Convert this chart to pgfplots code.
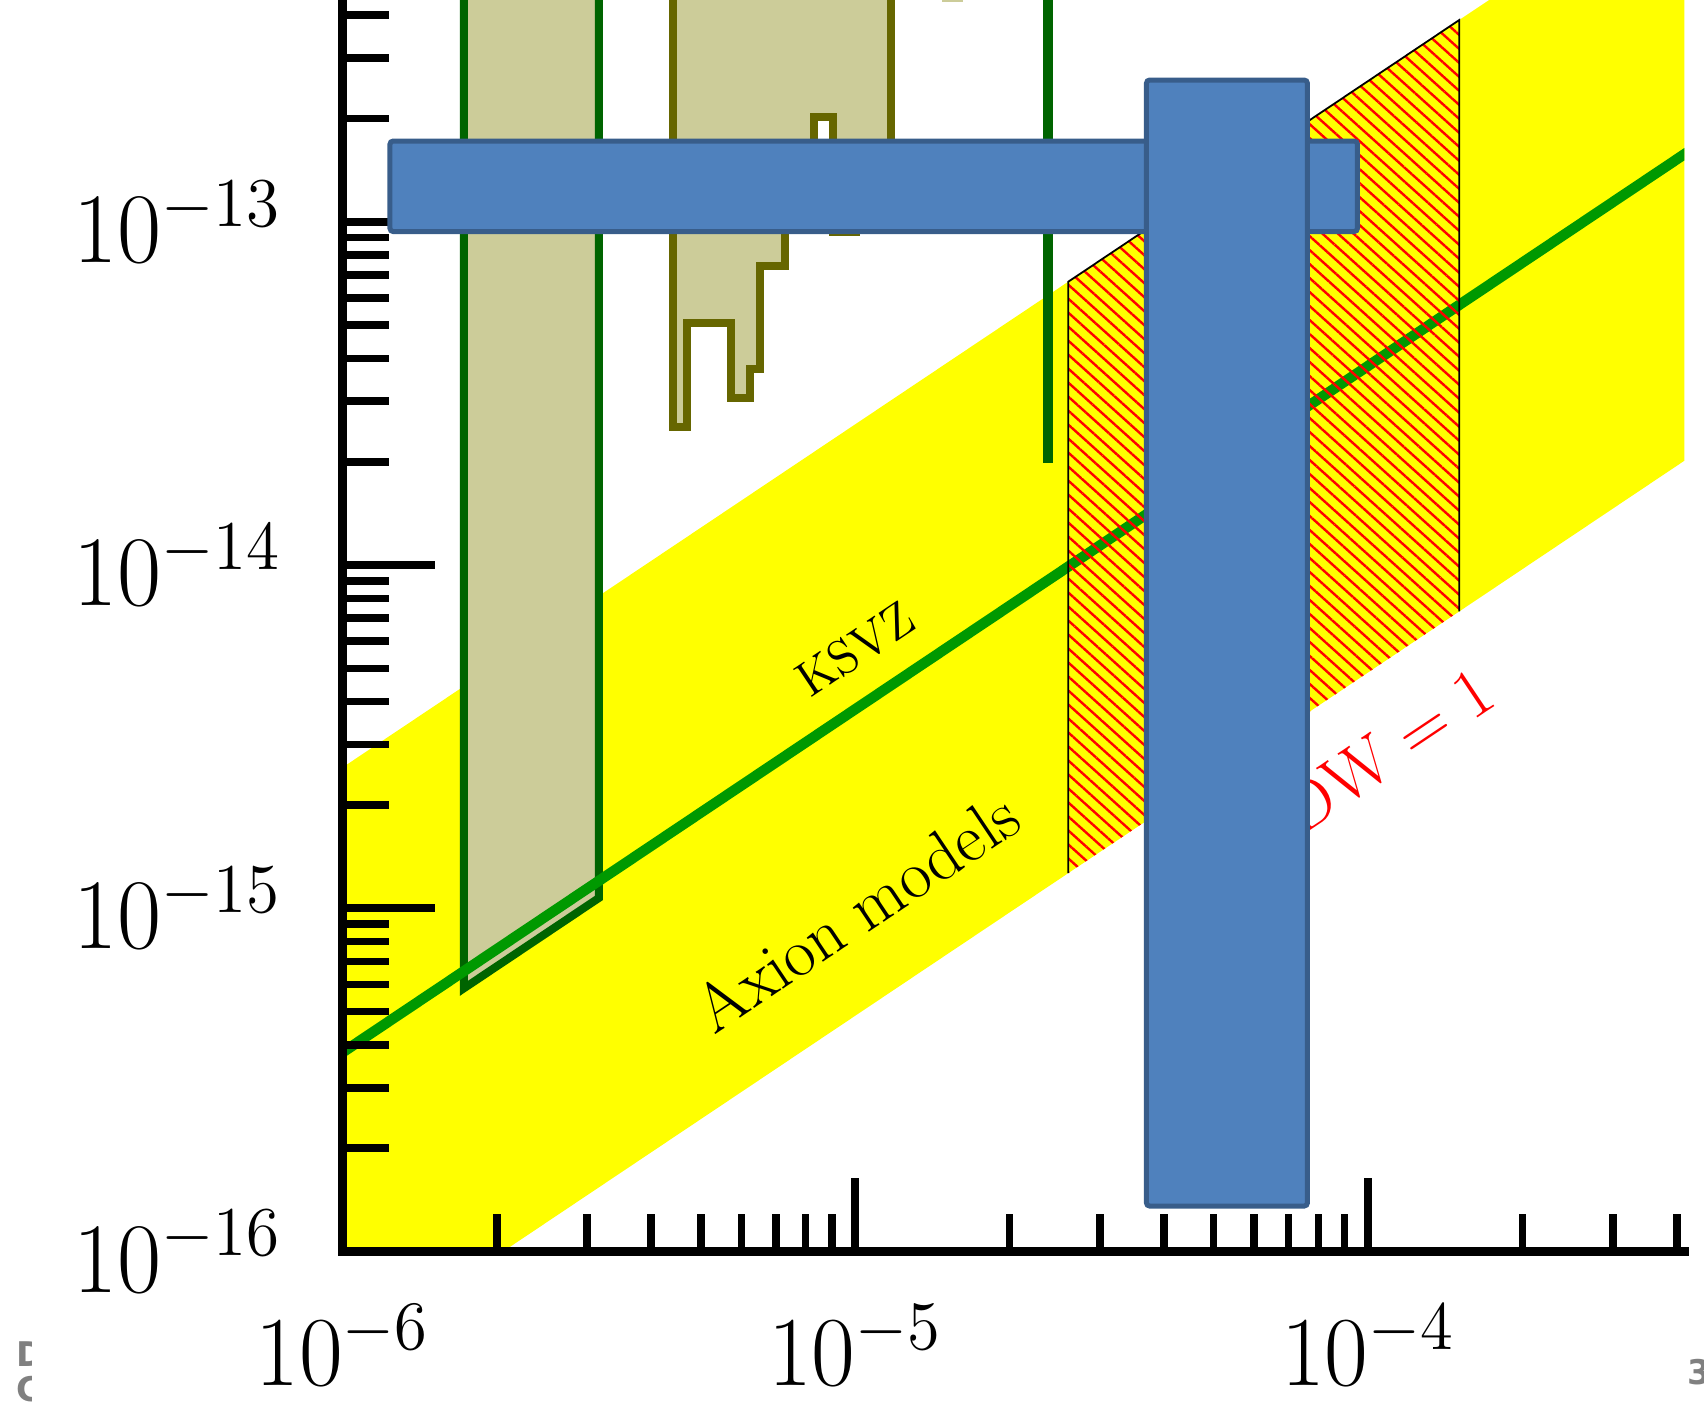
\RequirePackage{fix-cm}
\documentclass[border=0pt]{standalone}
\usepackage{fontspec}
\usepackage{graphicx}
\usepackage{pgfplots}
\pgfplotsset{compat=1.18}
\usetikzlibrary{patterns.meta}
\newfontfamily\footfont{DejaVu Sans}
\definecolor{bandyellow}{RGB}{255,255,0}
\definecolor{hatchred}{RGB}{255,0,0}
\definecolor{tanfill}{RGB}{204,204,153}
\definecolor{olivebd}{RGB}{102,102,0}
\definecolor{dkgreen}{RGB}{0,100,0}
\definecolor{ksvz}{RGB}{0,153,0}
\definecolor{barfill}{RGB}{79,129,189}
\definecolor{bardraw}{RGB}{56,93,138}
\definecolor{footgray}{RGB}{128,128,128}
\begin{document}
\begin{tikzpicture}
\useasboundingbox (0,0) rectangle (426pt,352pt);
% ---------------- data layer
\begin{axis}[xmode=log, ymode=log, xmin=1e-6, xmax=4.14e-4, ymin=1e-16, ymax=4.4262e-13,
  scale only axis, width=335.5pt, height=312.875pt, at={(85.625pt,39.125pt)}, anchor=south west,
  hide axis]
% axion band
\addplot[fill=bandyellow, draw=none] coordinates {(1e-6,2.5704e-15) (4.2e-4,1.0796e-12) (4.2e-4,2.0429e-14) (1e-6,4.864e-17)} -- cycle;
% left exclusion column
\addplot[fill=tanfill, draw=dkgreen, line width=2pt] coordinates {(1.7255e-6,1e-12) (1.7255e-6,5.8467e-16) (3.1637e-6,1.0720e-15) (3.1637e-6,1e-12)} -- cycle;
% middle exclusion region
\addplot[fill=tanfill, draw=olivebd, line width=2pt] coordinates {(4.4165e-6,1e-12) (4.4165e-6,2.5237e-14) (4.6968e-6,2.5237e-14) (4.6968e-6,5.060e-14) (5.7227e-6,5.060e-14) (5.7227e-6,3.0658e-14) (6.2413e-6,3.0658e-14) (6.2413e-6,3.729e-14) (6.519e-6,3.729e-14) (6.519e-6,7.432e-14) (7.2834e-6,7.432e-14) (7.2834e-6,1.1571e-13) (8.3258e-6,1.1571e-13) (8.3258e-6,2.0192e-13) (9.0593e-6,2.0192e-13) (9.0593e-6,9.317e-14) (1.0031e-5,9.317e-14) (1.0031e-5,1.1571e-13) (1.1749e-5,1.1571e-13) (1.1749e-5,1e-12)} -- cycle;
% small piece at top
\addplot[fill=tanfill, draw=none] coordinates {(1.4759e-5,4.3819e-13) (1.6218e-5,4.3819e-13) (1.6218e-5,1e-12) (1.4759e-5,1e-12)} -- cycle;
% KSVZ line
\addplot[ksvz, line width=2.6pt] coordinates {(1e-6,3.8019e-16) (4.2e-4,1.5968e-13)};
% hatched region
\addplot[draw=none, pattern={Lines[angle=-42,distance=2.6pt,line width=0.6pt]}, pattern color=hatchred] coordinates {(2.6025e-5,1.2659e-15) (2.6025e-5,6.6895e-14) (1.5066e-4,3.8726e-13) (1.5066e-4,7.328e-15)} -- cycle;
\addplot[black, line width=0.45pt] coordinates {(2.6025e-5,1.2659e-15) (2.6025e-5,6.6895e-14) (1.5066e-4,3.8726e-13) (1.5066e-4,7.328e-15)};
% narrow spike
\addplot[dkgreen, line width=2.4pt] coordinates {(2.3788e-5,1e-12) (2.3788e-5,1.9783e-14)};
\node[rotate=33.8, font=\fontsize{12.3}{14}\selectfont] at (axis cs:1e-5,5.70e-15) {KSVZ};
\node[rotate=33.8, font=\fontsize{17}{20}\selectfont] at (axis cs:1.0062e-5,9.771e-16) {Axion models};
\node[rotate=33.8, anchor=base east, text=hatchred, inner sep=0pt, font=\fontsize{17.5}{20}\selectfont] at (axis cs:1.8077e-4,3.95e-15) {$N\,\mathrm{DW} = 1$};
\end{axis}
% ---------------- x axis
\begin{axis}[xmode=log, ymode=log, xmin=1e-6, xmax=4.14e-4, ymin=1e-16, ymax=4.4262e-13,
  scale only axis, width=335.5pt, height=312.875pt, at={(85.625pt,39.125pt)}, anchor=south west,
  axis x line*=bottom, hide y axis, tick align=inside,
  xtick={1e-6,1e-5,1e-4},
  minor xtick={2e-6,3e-6,4e-6,5e-6,6e-6,7e-6,8e-6,9e-6,2e-5,3e-5,4e-5,5e-5,6e-5,7e-5,8e-5,9e-5,2e-4,3e-4,4e-4},
  xticklabels={\scalebox{1}[1.04]{$10^{-6}$},\scalebox{1}[1.04]{$10^{-5}$},\scalebox{1}[1.04]{$10^{-4}$}},
  major tick length=18.4pt, minor tick length=9.4pt,
  tick style={black, line width=1.9pt},
  axis line style={black, line width=2.1pt, line cap=rect},
  xticklabel style={anchor=base, inner sep=0pt, yshift=-33.5pt, font=\fontsize{23.8}{28}\selectfont}]
\end{axis}
% ---------------- y axis
\begin{axis}[xmode=log, ymode=log, xmin=1e-6, xmax=4.14e-4, ymin=1e-16, ymax=4.4262e-13,
  scale only axis, width=335.5pt, height=312.875pt, at={(85.625pt,39.125pt)}, anchor=south west,
  axis y line*=left, hide x axis, tick align=inside,
  ytick={1e-16,1e-15,1e-14,1e-13},
  minor ytick={2e-16,3e-16,4e-16,5e-16,6e-16,7e-16,8e-16,9e-16,2e-15,3e-15,4e-15,5e-15,6e-15,7e-15,8e-15,9e-15,2e-14,3e-14,4e-14,5e-14,6e-14,7e-14,8e-14,9e-14,2e-13,3e-13,4e-13},
  yticklabels={\scalebox{1}[1.04]{$10^{-16}$},\scalebox{1}[1.04]{$10^{-15}$},\scalebox{1}[1.04]{$10^{-14}$},\scalebox{1}[1.04]{$10^{-13}$}},
  major tick length=23.1pt, minor tick length=11.7pt,
  tick style={black, line width=1.9pt},
  axis line style={black, line width=2.1pt, line cap=rect},
  yticklabel style={anchor=east, inner sep=0pt, xshift=-15pt, font=\fontsize{24}{28}\selectfont}]
\end{axis}
% ---------------- overlay bars
\begin{axis}[xmode=log, ymode=log, xmin=1e-6, xmax=4.14e-4, ymin=1e-16, ymax=4.4262e-13,
  scale only axis, width=335.5pt, height=312.875pt, at={(85.625pt,39.125pt)}, anchor=south west,
  hide axis]
\addplot[fill=barfill, draw=bardraw, line width=1.25pt, rounded corners=0.8pt] coordinates {(1.2377e-6,1.7189e-13) (9.5353e-5,1.7189e-13) (9.5353e-5,9.3672e-14) (1.2377e-6,9.3672e-14)} -- cycle;
\addplot[fill=barfill, draw=bardraw, line width=1.25pt, rounded corners=0.8pt] coordinates {(3.6971e-5,2.588e-13) (7.6181e-5,2.588e-13) (7.6181e-5,1.357e-16) (3.6971e-5,1.357e-16)} -- cycle;
\end{axis}
\begin{scope}
\clip (0,0) rectangle (7.75pt,30pt);
\node[anchor=base west, text=footgray, inner sep=0pt, font=\footfont\bfseries\fontsize{8.5}{9}\selectfont] at (4pt,10.25pt) {D};
\node[anchor=base west, text=footgray, inner sep=0pt, font=\footfont\bfseries\fontsize{8.5}{9}\selectfont] at (4pt,1.5pt) {C};
\end{scope}
\node[anchor=base west, text=footgray, inner sep=0pt, font=\footfont\bfseries\fontsize{8.5}{9}\selectfont] at (421.75pt,5.75pt) {3};
\end{tikzpicture}
\end{document}
